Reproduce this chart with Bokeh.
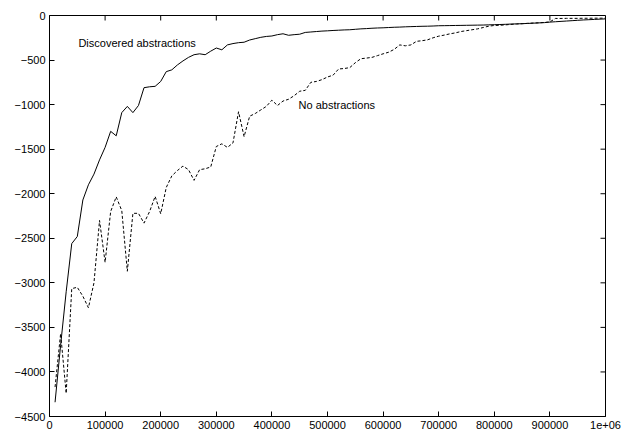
import math
from bokeh.plotting import figure
from bokeh.models import LinearAxis, FixedTicker, Range1d, Label
from bokeh.embed import file_html
from bokeh.resources import INLINE

steps = [i * 10000 for i in range(1, 101)]

discovered = [
    -4340, -3700, -3100, -2560, -2480, -2070, -1900, -1780, -1620, -1480,
    -1300, -1350, -1090, -1020, -1090, -1010, -810, -800, -795, -740,
    -630, -610, -555, -510, -470, -440, -430, -440, -400, -365,
    -385, -330, -315, -305, -300, -275, -260, -245, -235, -230,
    -215, -205, -222, -215, -210, -190, -185, -180, -175, -172,
    -168, -165, -162, -160, -155, -150, -147, -143, -140, -138,
    -135, -132, -130, -127, -125, -123, -121, -120, -118, -115,
    -114, -113, -112, -111, -110, -109, -108, -107, -105, -103,
    -101, -99, -96, -94, -92, -89, -86, -83, -80, -74,
    -70, -66, -62, -58, -54, -50, -47, -44, -41, -38,
]

no_abstr = [
    -4170, -3570, -4240, -3065, -3050, -3150, -3280, -3000, -2300, -2770,
    -2200, -2035, -2190, -2870, -2220, -2220, -2330, -2200, -2030, -2225,
    -1930, -1800, -1740, -1690, -1730, -1850, -1730, -1720, -1700, -1470,
    -1440, -1480, -1430, -1080, -1360, -1130, -1100, -1060, -1020, -950,
    -1010, -960, -940, -900, -850, -840, -750, -740, -720, -690,
    -670, -600, -595, -585, -530, -485, -478, -470, -450, -430,
    -412, -380, -330, -340, -330, -290, -283, -273, -250, -232,
    -220, -206, -195, -180, -170, -160, -150, -135, -120, -112,
    -110, -105, -100, -95, -92, -88, -85, -82, -78, -72,
    -33, -33, -32, -32, -32, -31, -31, -30, -30, -30,
]

x_ticks = [i * 100000 for i in range(11)]
y_ticks = [-4500 + 500 * i for i in range(10)]
x_labels = {t: str(t) for t in x_ticks}
x_labels[1000000] = "1e+06"
x_min, x_max = 0, 1000000
y_min, y_max = -4500, 0

label_discovered = ("Discovered abstractions", 52000, -314)
label_none = ("No abstractions", 448000, -1000)

FONT = "Liberation Sans"

p = figure(width=623, height=437, output_backend="svg", toolbar_location=None,
           x_range=Range1d(x_min, x_max), y_range=Range1d(y_min, y_max),
           min_border_left=49, min_border_top=15, min_border_right=18, min_border_bottom=21,
           x_axis_location=None, y_axis_location=None)
p.grid.visible = False
p.outline_line_color = "black"
p.outline_line_width = 1
p.background_fill_color = "white"
p.border_fill_color = "white"

def make_axis(ticks, overrides=None):
    ax = LinearAxis(ticker=FixedTicker(ticks=ticks))
    ax.major_tick_in = 5
    ax.major_tick_out = 0
    ax.minor_tick_in = 0
    ax.minor_tick_out = 0
    ax.axis_line_color = "black"
    ax.major_tick_line_color = "black"
    ax.major_label_text_font = FONT
    ax.major_label_text_color = "black"
    ax.major_label_text_font_size = "11px"
    ax.major_label_standoff = 4
    if overrides:
        ax.major_label_overrides = overrides
    return ax

p.add_layout(make_axis(x_ticks, x_labels), "below")
p.add_layout(make_axis(y_ticks), "left")

# mirrored inward ticks on top and right edges
p.ray(x=x_ticks, y=[y_max] * len(x_ticks), length=5, length_units="screen",
      angle=-math.pi / 2, line_color="black", line_width=1)
p.ray(x=[x_max] * len(y_ticks), y=y_ticks, length=5, length_units="screen",
      angle=math.pi, line_color="black", line_width=1)

p.line(steps, discovered, line_color="black", line_width=1)
p.line(steps, no_abstr, line_color="black", line_width=1, line_dash="3 2")

for txt, lx, ly in (label_discovered, label_none):
    p.add_layout(Label(x=lx, y=ly, text=txt, text_font=FONT, text_font_size="11px",
                       text_baseline="middle", text_align="left", text_color="black"))

open("out.html", "w").write(file_html(p, INLINE))
